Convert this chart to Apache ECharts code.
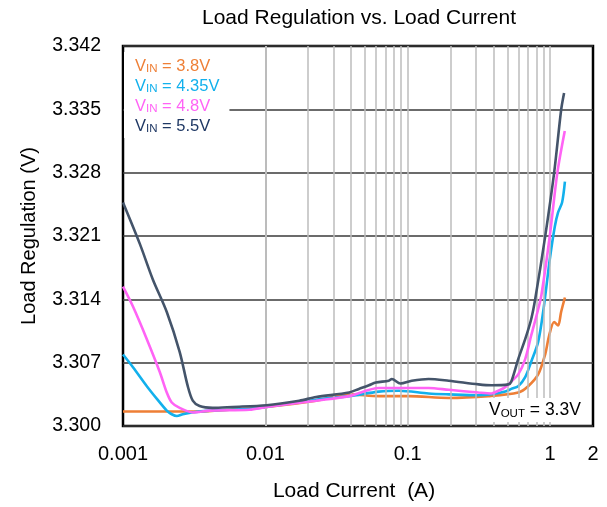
<!DOCTYPE html>
<html>
<head>
<meta charset="utf-8">
<script src="https://cdn.jsdelivr.net/npm/echarts@6/dist/echarts.min.js"></script>
<style>html,body{margin:0;padding:0;background:#fff}#c{width:607px;height:507px}</style>
</head>
<body>
<div id="c"></div>
<script>
// ---- data ----
const seriesNames = ['VIN = 3.8V', 'VIN = 4.35V', 'VIN = 4.8V', 'VIN = 5.5V'];
const xTickLabels = [0.001, 0.01, 0.1, 1, 2];
const yTicks = [3.300, 3.307, 3.314, 3.321, 3.328, 3.335, 3.342];
const minorGridX = [0.002,0.003,0.004,0.005,0.006,0.007,0.008,0.009,0.01,
                    0.02,0.03,0.04,0.05,0.06,0.07,0.08,0.09,0.1,
                    0.2,0.3,0.4,0.5,0.6,0.7,0.8,0.9,1];

const x38 = [0.001,0.00345,0.0056,0.0102,0.0227,0.0387,0.0627,0.1016,0.194,0.368,0.597,0.701,0.824,0.922,0.984,1.067,1.137,1.194,1.27];
const y38 = [3.3016,3.3016,3.3018,3.3021,3.3028,3.3035,3.3033,3.3033,3.3031,3.3033,3.3037,3.3044,3.3057,3.3079,3.3100,3.3115,3.3111,3.3126,3.3142];

const x435 = [0.001,0.001175,0.00147,0.00173,0.00203,0.0022,0.00239,0.00263,0.00304,0.00406,0.00773,0.0102,0.0227,0.0387,0.0627,0.0865,0.140,0.194,0.314,0.387,0.484,0.533,0.597,0.668,0.736,0.824,0.90,0.994,1.077,1.137,1.213,1.27];
const y435 = [3.3079,3.3065,3.3044,3.3030,3.3017,3.3013,3.3011,3.3013,3.3015,3.3017,3.3019,3.3021,3.3029,3.3033,3.3038,3.3039,3.3036,3.3035,3.3034,3.3035,3.3038,3.3041,3.3044,3.3054,3.3071,3.3093,3.3130,3.3184,3.3220,3.3236,3.3247,3.3270];

const x48 = [0.001,0.001175,0.00147,0.00181,0.00203,0.0022,0.0025,0.00309,0.00406,0.00773,0.0102,0.0227,0.0387,0.0627,0.0865,0.140,0.194,0.314,0.387,0.433,0.484,0.533,0.597,0.668,0.736,0.824,0.869,0.994,1.124,1.267];
const y48 = [3.3154,3.3132,3.3096,3.3060,3.3037,3.3026,3.3020,3.3015,3.3017,3.3018,3.3021,3.3028,3.3033,3.3042,3.3042,3.3042,3.3040,3.3037,3.3036,3.3039,3.3043,3.3049,3.3057,3.3074,3.3100,3.3129,3.3145,3.3210,3.3280,3.3326];

const x55 = [0.001,0.001315,0.00162,0.00203,0.0025,0.00285,0.00309,0.00345,0.00426,0.00588,0.0102,0.0173,0.0227,0.0387,0.0454,0.0534,0.0597,0.0736,0.0773,0.0889,0.1067,0.140,0.194,0.314,0.387,0.508,0.533,0.597,0.668,0.736,0.785,0.922,1.067,1.194,1.253];
const y55 = [3.3247,3.3201,3.3162,3.3126,3.3082,3.3044,3.3028,3.3022,3.3020,3.3021,3.3023,3.3028,3.3032,3.3037,3.3041,3.3045,3.3048,3.3050,3.3052,3.3047,3.3050,3.3052,3.3050,3.3046,3.3045,3.3046,3.3049,3.3074,3.3096,3.3118,3.3140,3.3209,3.3280,3.3349,3.3368];

const colors = ['#EE7F36', '#12B0EC', '#FF63F5', '#44546A'];
const legendColors = ['#EE7F36', '#12B0EC', '#FF63F5', '#1F3864'];
const xs = [x38, x435, x48, x55];
const ys = [y38, y435, y48, y55];

const FONT = 'Liberation Sans, Arial, sans-serif';
const chart = echarts.init(document.getElementById('c'), null, {renderer: 'canvas'});

const lineSeries = seriesNames.map((n, i) => ({
  name: n,
  type: 'line',
  data: xs[i].map((x, k) => [x, ys[i][k]]),
  showSymbol: false,
  symbol: 'none',
  smooth: 0.3,
  lineStyle: {color: colors[i], width: 2.6},
  itemStyle: {color: colors[i]},
  z: 3 + i,
  silent: true
}));

const gridSeries = {
  name: 'grid',
  type: 'line',
  data: [],
  z: 1,
  silent: true,
  markLine: {
    silent: true,
    symbol: ['none', 'none'],
    label: {show: false},
    lineStyle: {color: '#BDBDBD', width: 1.5, type: 'solid'},
    emphasis: {disabled: true},
    animation: false,
    data: minorGridX.map(v => ({xAxis: v}))
  }
};

const subFmt = (name) => {
  const rest = name.replace('VIN', '');
  return '{v|V}{s|IN}{v|' + rest + '}';
};

chart.setOption({
  animation: false,
  backgroundColor: '#fff',
  title: {
    text: 'Load Regulation vs. Load Current',
    left: 354, top: 3, textAlign: 'center',
    textStyle: {fontFamily: FONT, fontSize: 21, fontWeight: 'normal', color: '#000'}
  },
  grid: {left: 123, right: 14, top: 46, bottom: 80, show: true, borderColor: '#000', borderWidth: 2.5, backgroundColor: 'transparent', containLabel: false},
  legend: {
    orient: 'vertical', left: 124, top: 52,
    backgroundColor: '#fff', padding: [4, 10, 3, 6], itemGap: 1,
    icon: 'none', itemWidth: 0, itemHeight: 14, z: 10,
    selectedMode: false,
    data: seriesNames.map((n, i) => ({name: n, textStyle: {color: legendColors[i]}})),
    formatter: subFmt,
    textStyle: {
      fontFamily: FONT, fontSize: 16,
      rich: {
        v: {fontFamily: FONT, fontSize: 16.5, lineHeight: 18},
        s: {fontFamily: FONT, fontSize: 11.5, lineHeight: 18, verticalAlign: 'bottom', padding: [7, 0, 0, 0]}
      }
    }
  },
  xAxis: {
    type: 'log', logBase: 10, min: 0.001, max: 2,
    name: 'Load Current  (A)', nameLocation: 'middle', nameGap: 55,
    nameTextStyle: {fontFamily: FONT, fontSize: 21, color: '#000', padding: [0, 8, 0, 0]},
    axisLine: {show: false}, axisTick: {show: false},
    splitLine: {show: false}, minorSplitLine: {show: false},
    axisLabel: {
      fontFamily: FONT, fontSize: 20, color: '#000', margin: 18,
      showMinLabel: true, showMaxLabel: true,
      customValues: xTickLabels,
      formatter: v => String(+(+v).toPrecision(3))
    }
  },
  yAxis: {
    type: 'value', min: yTicks[0], max: yTicks[yTicks.length - 1], interval: 0.007,
    name: 'Load Regulation (V)', nameLocation: 'middle', nameGap: 84,
    nameTextStyle: {fontFamily: FONT, fontSize: 20, color: '#000'},
    axisLine: {show: false}, axisTick: {show: false},
    splitLine: {show: true, lineStyle: {color: '#3a3a3a', width: 1.5}},
    axisLabel: {fontFamily: FONT, fontSize: 19.5, color: '#000', margin: 22,
      formatter: v => (+v).toFixed(3)}
  },
  graphic: [{
    type: 'text', left: 486, top: 398, z: 100,
    style: {
      text: '{v|V}{s|OUT}{v| = 3.3V}',
      backgroundColor: '#fff', padding: [2, 4, 2, 3],
      fill: '#000',
      rich: {
        v: {fontFamily: FONT, fontSize: 17.5, lineHeight: 20, fill: '#000'},
        s: {fontFamily: FONT, fontSize: 11.5, lineHeight: 20, verticalAlign: 'bottom', padding: [8, 0, 0, 0], fill: '#000'}
      }
    }
  }],
  series: [gridSeries].concat(lineSeries)
});
</script>
</body>
</html>
